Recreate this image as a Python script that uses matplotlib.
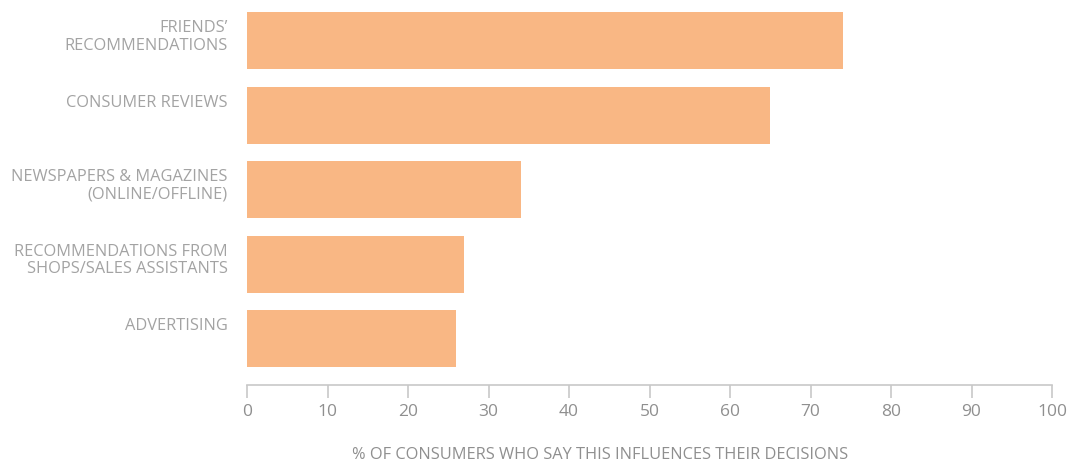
import matplotlib
matplotlib.use("Agg")
import matplotlib.pyplot as plt

categories = [
    "FRIENDS\u2019\nRECOMMENDATIONS",
    "CONSUMER REVIEWS",
    "NEWSPAPERS & MAGAZINES\n(ONLINE/OFFLINE)",
    "RECOMMENDATIONS FROM\nSHOPS/SALES ASSISTANTS",
    "ADVERTISING",
]
values = [74, 65, 34, 27, 26]
xticks = [0, 10, 20, 30, 40, 50, 60, 70, 80, 90, 100]
xlabel = "% OF CONSUMERS WHO SAY THIS INFLUENCES THEIR DECISIONS"

plt.rcParams['font.family'] = ['Open Sans', 'DejaVu Sans']

fig = plt.figure(figsize=(10.77, 4.64), dpi=100)
ax = fig.add_axes([247/1077, (464-386)/464, 805/1077, 373/464])

bar_h = 0.765
pos = list(range(len(categories)))
ax.barh(pos, values, height=bar_h, color="#F9B784", edgecolor="none")

ax.set_xlim(0, 100)
ax.set_ylim(4.624, -0.3826)

ax.set_xticks(xticks)
ax.set_xticklabels([str(t) for t in xticks], fontsize=12.5)
ax.tick_params(axis='x', length=9, width=1.2, color="#c8c8c8", labelcolor="#8f8f8f",
               direction='out', pad=4)

ax.set_yticks([p - bar_h/2 + 0.095 for p in pos])
ax.set_yticklabels(categories, fontsize=11.8, va='top', linespacing=1.14)
ax.tick_params(axis='y', length=0, pad=14, labelcolor="#a3a3a3")

for s in ['top', 'right', 'left']:
    ax.spines[s].set_visible(False)
ax.spines['bottom'].set_color("#c8c8c8")
ax.spines['bottom'].set_linewidth(1.2)

ax.set_xlabel(xlabel, fontsize=11.8, color="#8f8f8f")
ax.xaxis.set_label_coords((600 - 247) / 805, -(455 - 386) / 373)
ax.xaxis.label.set_va('center')

fig.savefig("out.png", dpi=100)
